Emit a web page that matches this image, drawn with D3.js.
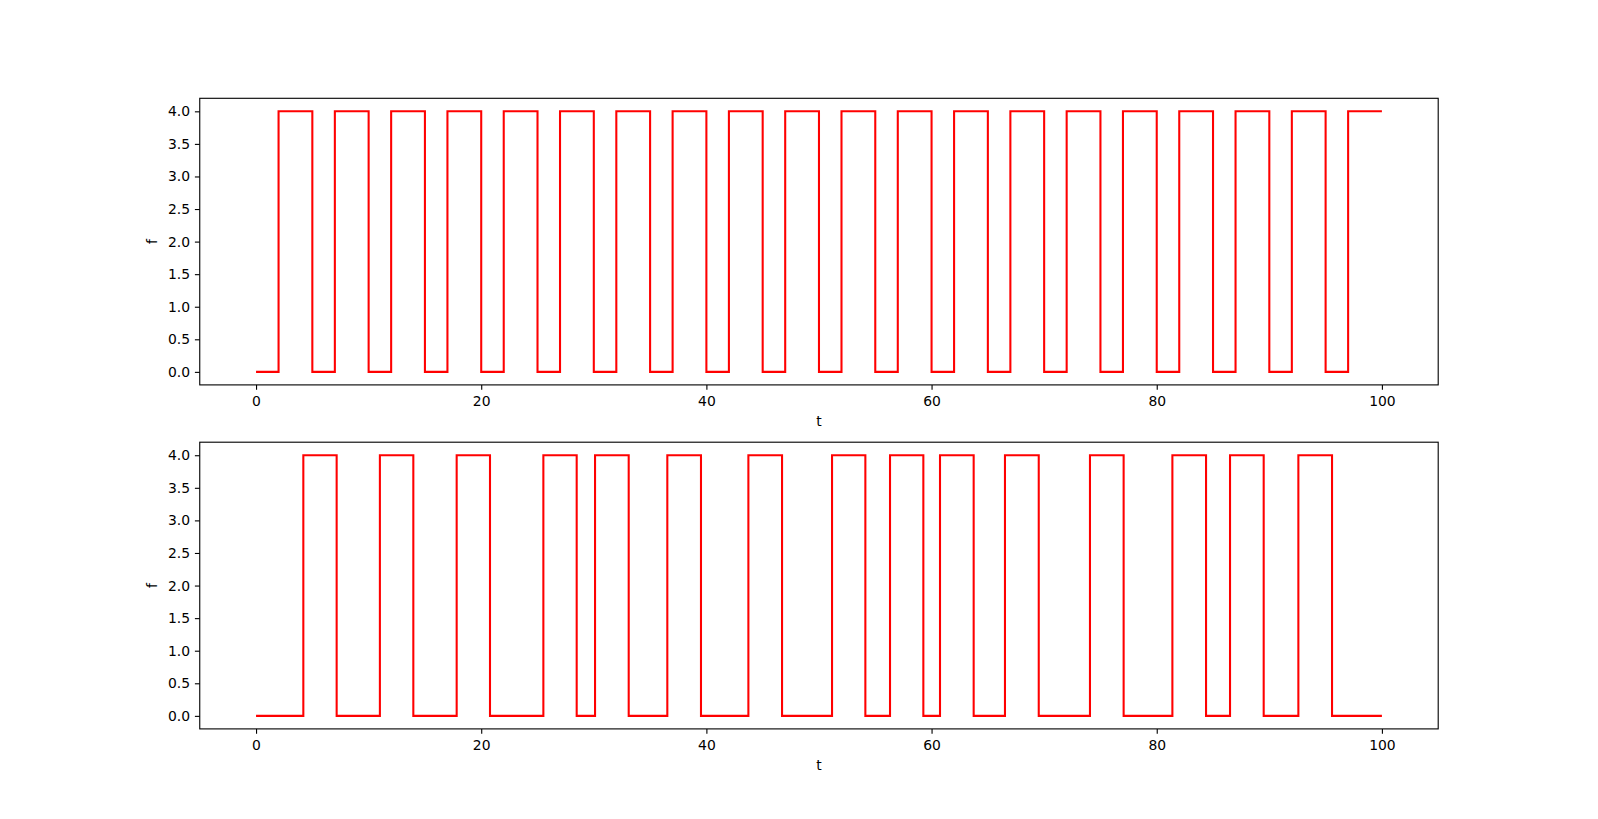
<!DOCTYPE html>
<html>
<head>
<meta charset="utf-8">
<script src="https://cdn.jsdelivr.net/npm/d3@7"></script>
<style>
  html, body { margin: 0; padding: 0; background: #ffffff; }
  svg { display: block; }
  text { font-family: "DejaVu Sans", sans-serif; fill: #000; }
</style>
</head>
<body>
<script>
// ---- Data ----
const xTicks = [0, 20, 40, 60, 80, 100];
const yTicks = [0.0, 0.5, 1.0, 1.5, 2.0, 2.5, 3.0, 3.5, 4.0];
const tStart = 0, tEnd = 100;
const lowLevel = 0, highLevel = 4;

// Top panel: rise / fall times of the periodic signal
const topRises = [2, 7, 12, 17, 22, 27, 32, 37, 42, 47, 52, 57, 62, 67, 72, 77, 82, 87, 92, 97];
const topFalls = [5, 10, 15, 20, 25, 30, 35, 40, 45, 50, 55, 60, 65, 70, 75, 80, 85, 90, 95];

// Bottom panel: rise / fall times of the irregular signal
const bottomRises = [4.2, 11.0, 17.82, 25.52, 30.11, 36.53, 43.73, 51.16, 56.31, 60.75, 66.52, 74.07, 81.39, 86.51, 92.58];
const bottomFalls = [7.16, 13.97, 20.78, 28.48, 33.1, 39.52, 46.72, 54.12, 59.27, 63.74, 69.52, 77.06, 84.38, 89.50, 95.57];

// ---- Layout (matplotlib-like) ----
const W = 1598, H = 819;
const left = 199.75, right = 1438.2;
const panels = [
  { top: 98.3, bottom: 384.9, rises: topRises, falls: topFalls },
  { top: 442.2, bottom: 728.9, rises: bottomRises, falls: bottomFalls }
];
const fontPx = 13.9, tickLen = 4.86, spineW = 1.11;

const svg = d3.select("body").append("svg")
  .attr("width", W).attr("height", H);
svg.append("rect").attr("width", W).attr("height", H).attr("fill", "#fff");

function stepSeries(rises, falls) {
  const pts = [{ t: tStart, v: lowLevel }];
  const ev = [];
  rises.forEach(r => ev.push({ t: r, v: highLevel }));
  falls.forEach(f => ev.push({ t: f, v: lowLevel }));
  ev.sort((a, b) => a.t - b.t);
  ev.forEach(e => pts.push(e));
  pts.push({ t: tEnd, v: pts[pts.length - 1].v });
  return pts;
}

panels.forEach(p => {
  const x = d3.scaleLinear().domain([-5, 105]).range([left, right]);
  const y = d3.scaleLinear().domain([-0.2, 4.2]).range([p.bottom, p.top]);
  const g = svg.append("g");

  // data line
  const line = d3.line().x(d => x(d.t)).y(d => y(d.v)).curve(d3.curveStepAfter);
  g.append("path")
    .datum(stepSeries(p.rises, p.falls))
    .attr("d", line)
    .attr("fill", "none")
    .attr("stroke", "#ff0000")
    .attr("stroke-width", 2.08)
    .attr("stroke-linejoin", "miter")
    .attr("stroke-linecap", "butt");

  // x axis
  const xAxis = d3.axisBottom(x).tickValues(xTicks).tickFormat(d3.format("d"))
    .tickSize(tickLen).tickPadding(4.86);
  const xg = g.append("g").attr("transform", `translate(0,${p.bottom})`).call(xAxis);
  xg.select(".domain").remove();
  xg.selectAll(".tick line").attr("stroke", "#000").attr("stroke-width", spineW);
  xg.selectAll(".tick text").attr("font-size", fontPx).attr("font-family", "DejaVu Sans")
    .attr("fill", "#000").attr("dy", null).attr("y", null)
    .attr("transform", `translate(0,${21.1})`);

  // y axis
  const yAxis = d3.axisLeft(y).tickValues(yTicks).tickFormat(d3.format(".1f"))
    .tickSize(tickLen).tickPadding(4.86);
  const yg = g.append("g").attr("transform", `translate(${left},0)`).call(yAxis);
  yg.select(".domain").remove();
  yg.selectAll(".tick line").attr("stroke", "#000").attr("stroke-width", spineW);
  yg.selectAll(".tick text").attr("font-size", fontPx).attr("font-family", "DejaVu Sans")
    .attr("fill", "#000");

  // spines
  g.append("rect")
    .attr("x", left).attr("y", p.top)
    .attr("width", right - left).attr("height", p.bottom - p.top)
    .attr("fill", "none").attr("stroke", "#000").attr("stroke-width", spineW);

  // labels
  g.append("text").text("t")
    .attr("x", (left + right) / 2).attr("y", p.bottom + 41.4)
    .attr("text-anchor", "middle").attr("font-size", fontPx);
  g.append("text").text("f")
    .attr("transform", `translate(${156.7},${(p.top + p.bottom) / 2}) rotate(-90)`)
    .attr("text-anchor", "middle").attr("font-size", fontPx);
});
</script>
</body>
</html>
